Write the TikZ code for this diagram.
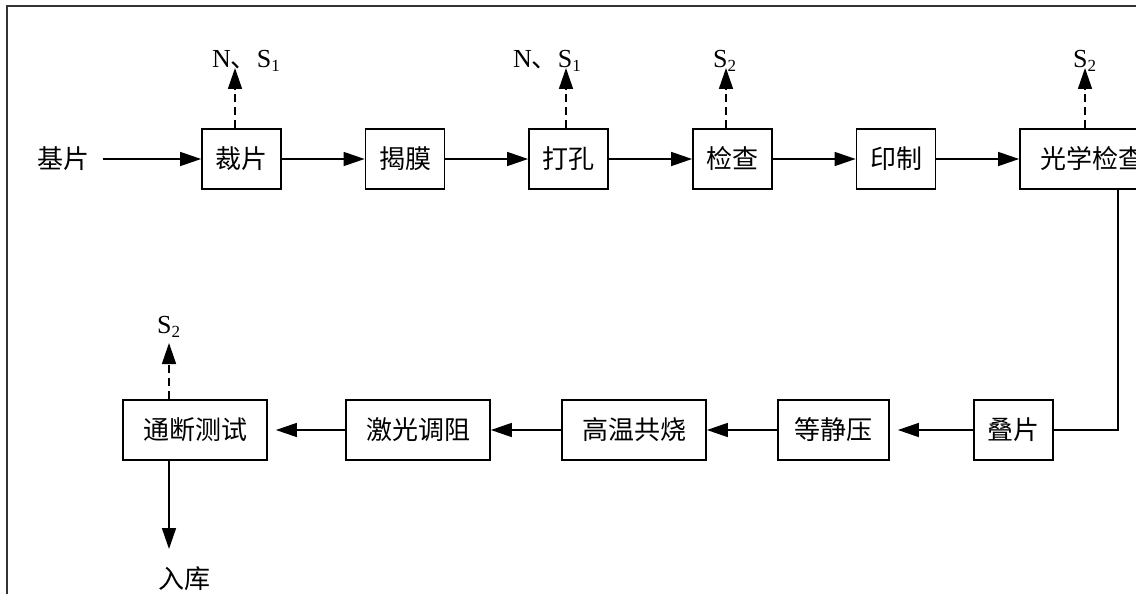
\documentclass[tikz,border=0pt]{standalone}
\usepackage{fontspec}
\setmainfont{Liberation Serif}
\newfontfamily\cjk{Noto Sans CJK SC}
\usetikzlibrary{arrows.meta}
\newcommand{\subs}[1]{\raisebox{-0.35ex}{\fontsize{17}{17}\selectfont #1}}
\begin{document}
\begin{tikzpicture}[x=1pt,y=-1pt,
  proc/.style={draw, line width=1.8pt, minimum height=60pt, inner sep=0pt,
    font=\fontsize{26}{26}\selectfont\cjk},
  wtwo/.style={proc, minimum width=79pt},
  wthree/.style={proc, minimum width=111pt},
  wfour/.style={proc, minimum width=144pt},
  flow/.style={line width=1.6pt, -{Triangle[length=21pt,width=14pt]}},
  emit/.style={flow, dash pattern=on 8pt off 5pt},
  lbl/.style={font=\fontsize{26}{26}\selectfont, inner sep=0pt},
  cjklbl/.style={font=\fontsize{26}{26}\selectfont\cjk, inner sep=0pt},
  frame/.style={line width=1.6pt, draw=black!80}]
\useasboundingbox (0,0) rectangle (1136,594);
\clip (0,0) rectangle (1136,594);
\draw[frame] (7,594) -- (7,6) -- (1136,6);

% top row
\node[cjklbl] (jp) at (63.5,159) {基片};
\node[wtwo] (cp) at (241.5,159) {裁片};
\node[wtwo] (jm) at (405,159) {揭膜};
\node[wtwo] (dk) at (568.5,159) {打孔};
\node[wtwo] (jc) at (732.5,159) {检查};
\node[wtwo] (yz) at (896,159) {印制};
\node[wfour] (gx) at (1092,159) {光学检查};

% bottom row
\node[wtwo] (dp) at (1013.5,430) {叠片};
\node[wthree] (djy) at (833.5,430) {等静压};
\node[wfour] (gw) at (634,430) {高温共烧};
\node[wfour] (jg) at (418,430) {激光调阻};
\node[wfour] (td) at (195,430) {通断测试};
\node[cjklbl] (rk) at (184,579) {入库};

% emission labels
\node[lbl, anchor=base west] (l1) at (212,67) {N{\cjk 、}S\subs{1}};
\node[lbl, anchor=base west] (l2) at (513,67) {N{\cjk 、}S\subs{1}};
\node[lbl, anchor=base west] (l3) at (713,67) {S\subs{2}};
\node[lbl, anchor=base west] (l4) at (1073,67) {S\subs{2}};
\node[lbl, anchor=base west] (l5) at (157,333) {S\subs{2}};

% coordinates
\coordinate (t1) at (235,68);
\coordinate (t2) at (566,68);
\coordinate (t3) at (726,68);
\coordinate (t4) at (1085,68);
\coordinate (t5) at (169,343);
\coordinate (turn) at (1118,430);
\coordinate (down) at (169,549);

% flows
\draw[flow] ([xshift=13pt]jp.east) -- (cp);
\draw[flow] (cp) -- (jm);
\draw[flow] (jm) -- (dk);
\draw[flow] (dk) -- (jc);
\draw[flow] (jc) -- (yz);
\draw[flow] (yz) -- (gx);
\draw[line width=1.6pt] (gx.south -| turn) -- (turn) -- (dp.east);
\draw[flow, shorten >=8pt] (dp) -- (djy);
\draw[flow] (djy) -- (gw);
\draw[flow] (gw) -- (jg);
\draw[flow, shorten >=8pt] (jg) -- (td);
\draw[flow] (td.south -| down) -- (down);

% emissions
\draw[emit] (cp.north -| t1) -- (t1);
\draw[emit] (dk.north -| t2) -- (t2);
\draw[emit] (jc.north -| t3) -- (t3);
\draw[emit] (gx.north -| t4) -- (t4);
\draw[emit] (td.north -| t5) -- (t5);
\end{tikzpicture}
\end{document}
